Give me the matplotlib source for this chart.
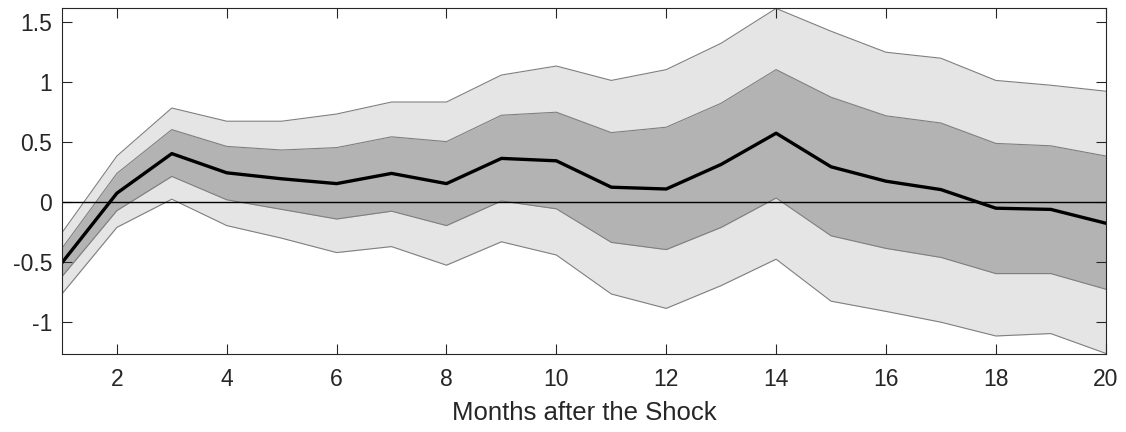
import matplotlib.pyplot as plt
import numpy as np

# --- DATOS ---
months = list(range(1, 21))
median = [-0.51, 0.07, 0.40, 0.24, 0.19, 0.15, 0.235, 0.15, 0.36, 0.34,
          0.12, 0.105, 0.31, 0.57, 0.29, 0.17, 0.10, -0.055, -0.065, -0.18]
outer_hi = [-0.26, 0.38, 0.78, 0.67, 0.67, 0.73, 0.83, 0.83, 1.055, 1.13,
            1.01, 1.10, 1.32, 1.61, 1.42, 1.245, 1.195, 1.01, 0.97, 0.92]
inner_hi = [-0.39, 0.235, 0.60, 0.46, 0.43, 0.45, 0.54, 0.50, 0.72, 0.745,
            0.575, 0.62, 0.82, 1.10, 0.87, 0.715, 0.655, 0.485, 0.465, 0.38]
inner_lo = [-0.625, -0.075, 0.21, 0.015, -0.065, -0.145, -0.08, -0.20, 0.005, -0.06,
            -0.34, -0.40, -0.215, 0.03, -0.285, -0.39, -0.465, -0.60, -0.60, -0.73]
outer_lo = [-0.77, -0.215, 0.02, -0.20, -0.305, -0.425, -0.375, -0.53, -0.335, -0.445,
            -0.77, -0.89, -0.70, -0.48, -0.83, -0.915, -1.005, -1.12, -1.10, -1.265]

xticks = [2, 4, 6, 8, 10, 12, 14, 16, 18, 20]
yticks = [-1, -0.5, 0, 0.5, 1, 1.5]
ytick_labels = ['-1', '-0.5', '0', '0.5', '1', '1.5']

plt.rcParams['font.family'] = ['Liberation Sans', 'DejaVu Sans']

fig = plt.figure(figsize=(11.26, 4.32), dpi=100)
ax = fig.add_axes([0.055, 0.1806, 0.927, 0.801])

ax.fill_between(months, outer_lo, outer_hi, color='#e5e5e5', lw=0)
ax.fill_between(months, inner_lo, inner_hi, color='#b3b3b3', lw=0)
for serie in [outer_hi, inner_hi, inner_lo, outer_lo]:
    ax.plot(months, serie, color='#7f7f7f', lw=0.8)

ax.axhline(0, color='black', lw=1.0)
ax.plot(months, median, color='black', lw=2.4)

ax.set_xlim(1, 20)
ax.set_ylim(-1.27, 1.614)
ax.set_xticks(xticks)
ax.set_xticklabels([str(t) for t in xticks])
ax.set_yticks(yticks)
ax.set_yticklabels(ytick_labels)
ax.tick_params(direction='in', length=7, width=0.8, top=True, right=True,
               labelsize=16.5, colors='#262626')
ax.tick_params(axis='x', pad=10)
ax.tick_params(axis='y', pad=7)
for s in ax.spines.values():
    s.set_color('#262626')
    s.set_linewidth(0.8)
ax.set_xlabel('Months after the Shock', fontsize=18.5, color='#262626', labelpad=7)

fig.savefig('out.png', dpi=100)
